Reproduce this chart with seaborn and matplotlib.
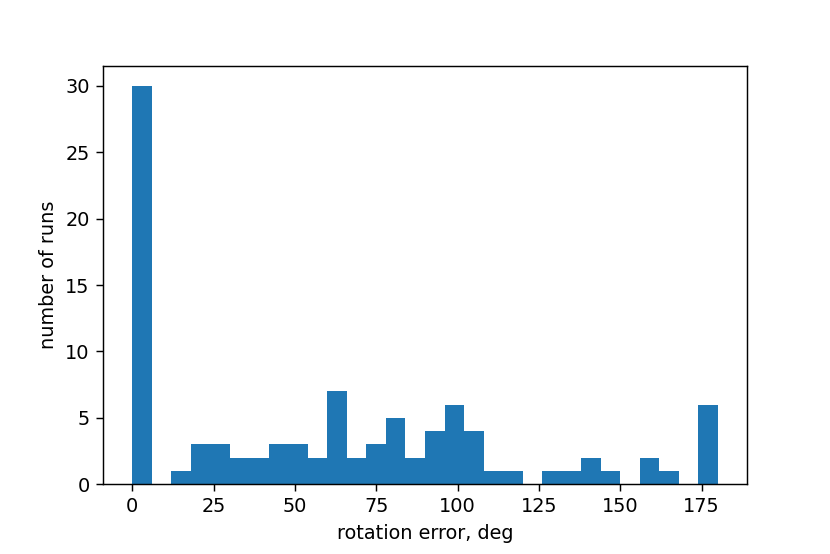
import seaborn as sns
import matplotlib.pyplot as plt
import pandas as pd

# histogram counts, 30 bins of 6 deg
bin_edges = [0, 6, 12, 18, 24, 30, 36, 42, 48, 54, 60, 66, 72, 78, 84, 90,
             96, 102, 108, 114, 120, 126, 132, 138, 144, 150, 156, 162, 168, 174, 180]
counts = [30, 0, 1, 3, 3, 2, 2, 3, 3, 2, 7, 2, 3, 5, 2, 4,
          6, 4, 1, 1, 0, 1, 1, 2, 1, 0, 2, 1, 0, 6]

centers = [(a + b) / 2 for a, b in zip(bin_edges[:-1], bin_edges[1:])]
df = pd.DataFrame({'error': centers, 'runs': counts})

plt.rcParams['font.size'] = 10.7
plt.rcParams['xtick.major.size'] = 3.8
plt.rcParams['ytick.major.size'] = 3.8

fig, ax = plt.subplots(figsize=(6.385, 4.262), dpi=130)
fig.subplots_adjust(left=0.124, right=0.9, bottom=0.126, top=0.881)

sns.histplot(data=df, x='error', weights='runs', bins=bin_edges, ax=ax,
             color='#1f77b4', alpha=1, linewidth=0, element='bars')

ax.set_xticks([0, 25, 50, 75, 100, 125, 150, 175])
ax.set_yticks([0, 5, 10, 15, 20, 25, 30])
ax.set_xlabel('rotation error, deg')
ax.set_ylabel('number of runs')

fig.savefig('out.png', dpi=130)
